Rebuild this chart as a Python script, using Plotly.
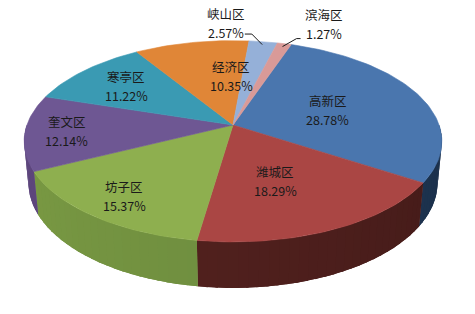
import math
import plotly.graph_objects as go

# District shares (%)
districts = ["高新区", "潍城区", "坊子区", "奎文区", "寒亭区", "经济区", "峡山区", "滨海区"]
shares = [28.78, 18.29, 15.37, 12.14, 11.22, 10.35, 2.57, 1.27]

# Slice styling
top_colors = ["#4A76AE", "#AA4644", "#8EAF4F", "#6E5793", "#3A9AB3", "#E08637", "#95B0D8", "#D99A98"]
side_left = ["#24405F", "#5C2522", "#7C9C44", "#5E477E", "#2E7C91", "#B86C2A", "#7890B0", "#B07C7A"]
side_right = ["#1B2F4A", "#421A18", "#62803A", "#54406F", "#276A7C", "#9A5A22", "#647A96", "#946866"]

# Label placement (radius fraction, angular nudge in degrees)
label_r = [0.5, 0.55, 0.8, 0.8, 0.7, 0.55, 1.266, 1.35]
label_da = [0.0, 4.5, 0.0, 0.0, 0.0, 12.5, -11.7, 6.3]
outside = [False, False, False, False, False, False, True, True]

# Perspective projection of a tilted cylinder (screen pixels)
START = 19.0          # angle where the first slice begins (clockwise from back)
ELEV = math.radians(28.4)
DIST = 5.44
FOC = 1121.0
CX, CY = 233.0, 125.0
THICK = 0.231


def proj(theta, r=1.0, h=0.0):
    t = math.radians(theta)
    X = r * math.sin(t)
    Z = r * math.cos(t)
    yc = h * math.cos(ELEV) + Z * math.sin(ELEV)
    zc = DIST + Z * math.cos(ELEV) - h * math.sin(ELEV)
    return CX + FOC * X / zc, CY - FOC * yc / zc


def mix(c1, c2, f):
    a = [int(c1[i:i + 2], 16) for i in (1, 3, 5)]
    b = [int(c2[i:i + 2], 16) for i in (1, 3, 5)]
    return "#%02x%02x%02x" % tuple(round(a[k] + (b[k] - a[k]) * f) for k in range(3))


def wall(b0, b1, steps=4):
    xs, ys = [], []
    for j in range(steps + 1):
        x, y = proj(b0 + (b1 - b0) * j / steps, 1.0, 0.0)
        xs.append(x); ys.append(y)
    for j in range(steps, -1, -1):
        x, y = proj(b0 + (b1 - b0) * j / steps, 1.0, -THICK)
        xs.append(x); ys.append(y)
    return xs, ys


total = sum(shares)
bounds = []
acc = START
for v in shares:
    a0 = acc
    a1 = acc + v / total * 360.0
    bounds.append((a0, a1))
    acc = a1

fig = go.Figure()

# Outer walls of the front half, shaded left-to-right
for i, (a0, a1) in enumerate(bounds):
    lo, hi = a0 % 360, a0 % 360 + (a1 - a0)
    s0, s1 = max(lo, 90.0), min(hi, 270.0)
    if s1 <= s0:
        continue
    # solid base so no gaps show between the shading bands
    xs, ys = wall(s0, s1, 40)
    base = mix(side_right[i], side_left[i], ((s0 + s1) / 2 - 90.0) / 180.0)
    fig.add_trace(go.Scatter(x=xs, y=ys, fill="toself", fillcolor=base, mode="lines",
                             line=dict(width=0), hoverinfo="skip", showlegend=False))
    n = max(2, int((s1 - s0) / 2.5) + 1)
    for k in range(n):
        b0 = s0 + (s1 - s0) * k / n
        b1 = min(s1, s0 + (s1 - s0) * (k + 1) / n + 0.6)
        f = ((b0 + b1) / 2 - 90.0) / 180.0  # 0 at right, 1 at left
        col = mix(side_right[i], side_left[i], f)
        xs, ys = wall(b0, b1)
        fig.add_trace(go.Scatter(x=xs, y=ys, fill="toself", fillcolor=col, mode="lines",
                                 line=dict(width=0), hoverinfo="skip", showlegend=False))

# Top faces
for i, (a0, a1) in enumerate(bounds):
    n = max(3, int((a1 - a0) / 1.5))
    cx, cy = proj(0, 0.0, 0.0)
    xs, ys = [cx], [cy]
    for j in range(n + 1):
        x, y = proj(a0 + (a1 - a0) * j / n, 1.0, 0.0)
        xs.append(x); ys.append(y)
    xs.append(cx); ys.append(cy)
    fig.add_trace(go.Scatter(x=xs, y=ys, fill="toself", fillcolor=top_colors[i], mode="lines",
                             line=dict(color=top_colors[i], width=0.6), hoverinfo="skip",
                             showlegend=False))

# Data labels
font = dict(family="Noto Sans CJK SC, Noto Sans, sans-serif", size=12.5, color="#1a1a1a")
for i, (a0, a1) in enumerate(bounds):
    mid = (a0 + a1) / 2
    lx, ly = proj(mid + label_da[i], label_r[i], 0.0)
    fig.add_annotation(x=lx, y=ly, text=districts[i], showarrow=False, font=font, yshift=9)
    fig.add_annotation(x=lx, y=ly, text=f"{shares[i]:.2f}%", showarrow=False, font=font, yshift=-10)
    if outside[i]:
        ex, ey = proj(mid, 0.96, 0.0)
        if lx < ex:
            sx, sy = lx + 19, ly + 12
            px = sx + 7
        else:
            sx, sy = lx - 23, ly + 15
            px = sx - 4
        fig.add_trace(go.Scatter(x=[sx, px, ex], y=[sy, sy, ey], mode="lines",
                                 line=dict(color="#1a1a1a", width=1), hoverinfo="skip",
                                 showlegend=False))

fig.update_layout(
    width=475, height=314,
    margin=dict(l=0, r=0, t=0, b=0),
    paper_bgcolor="white", plot_bgcolor="white",
    xaxis=dict(range=[0, 475], visible=False, fixedrange=True),
    yaxis=dict(range=[314, 0], visible=False, fixedrange=True),
    showlegend=False,
)

fig.write_html("out.html")
